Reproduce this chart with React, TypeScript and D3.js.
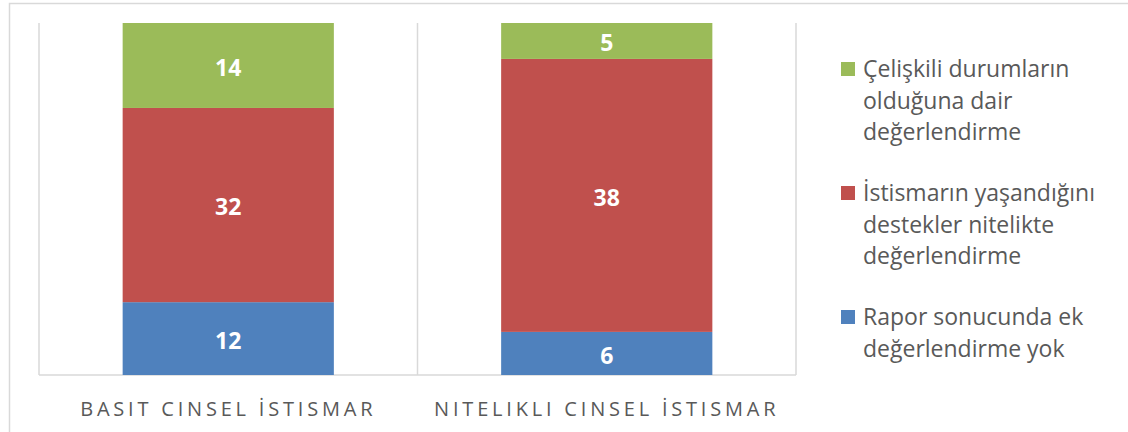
import React, { useEffect, useRef } from 'react';
import * as d3 from 'd3';

const categories = ['BASIT CINSEL İSTISMAR', 'NITELIKLI CINSEL İSTISMAR'];
const seriesNames = ['Rapor sonucunda ek değerlendirme yok', 'İstismarın yaşandığını destekler nitelikte değerlendirme', 'Çelişkili durumların olduğuna dair değerlendirme'];
const seriesKeys = ['yok', 'destekler', 'celiskili'];
const yokValues = [12, 6];
const desteklerValues = [32, 38];
const celiskiliValues = [14, 5];
const seriesColors = ['#4F81BD', '#C0504D', '#9BBB59'];
// legend is shown top-down: green, red, blue
const legendLines = [
  ['Çelişkili durumların', 'olduğuna dair', 'değerlendirme'],
  ['İstismarın yaşandığını', 'destekler nitelikte', 'değerlendirme'],
  ['Rapor sonucunda ek', 'değerlendirme yok'],
];
const legendSeries = [2, 1, 0];

const App = () => {
  const ref = useRef<SVGSVGElement>(null);

  useEffect(() => {
    const svg = d3.select(ref.current);
    svg.selectAll('*').remove();

    const W = 1128, H = 432;
    const plot = { left: 39, right: 796, top: 23, bottom: 375 };
    const font = "'Open Sans', sans-serif";
    const grid = '#d9d9d9';

    svg.append('rect')
      .attr('x', 9.5).attr('y', 3.5)
      .attr('width', W).attr('height', H)
      .attr('fill', 'white')
      .attr('stroke', grid)
      .attr('stroke-width', 1.5);

    const rows = categories.map((c, i) => ({
      cat: c,
      yok: yokValues[i],
      destekler: desteklerValues[i],
      celiskili: celiskiliValues[i],
    }));

    const stack = d3.stack<any>().keys(seriesKeys).offset(d3.stackOffsetExpand);
    const layers = stack(rows);

    const x = d3.scaleBand().domain(categories).range([plot.left, plot.right]).paddingInner(0.442).paddingOuter(0.221);
    const y = d3.scaleLinear().domain([0, 1]).range([plot.bottom, plot.top]);

    // category separators
    const edges = d3.range(categories.length + 1).map(i => plot.left + (plot.right - plot.left) * i / categories.length);
    edges.forEach(e => {
      svg.append('line')
        .attr('x1', e).attr('x2', e)
        .attr('y1', plot.top).attr('y2', plot.bottom)
        .attr('stroke', grid).attr('stroke-width', 1.5);
    });
    svg.append('line')
      .attr('x1', plot.left).attr('x2', plot.right)
      .attr('y1', plot.bottom).attr('y2', plot.bottom)
      .attr('stroke', grid).attr('stroke-width', 1.5);

    layers.forEach((layer, si) => {
      const g = svg.append('g');
      g.selectAll('rect')
        .data(layer)
        .join('rect')
        .attr('x', (d: any) => x(d.data.cat)!)
        .attr('width', x.bandwidth())
        .attr('y', (d: any) => y(d[1]))
        .attr('height', (d: any) => y(d[0]) - y(d[1]))
        .attr('fill', seriesColors[si]);

      g.selectAll('text')
        .data(layer)
        .join('text')
        .attr('x', (d: any) => x(d.data.cat)! + x.bandwidth() / 2)
        .attr('y', (d: any) => (y(d[0]) + y(d[1])) / 2 + 2)
        .attr('dy', '0.36em')
        .attr('text-anchor', 'middle')
        .attr('font-family', font)
        .attr('font-weight', 'bold')
        .attr('font-size', 23)
        .attr('fill', 'white')
        .text((d: any) => d.data[seriesKeys[si]]);
    });

    // category labels
    categories.forEach(c => {
      svg.append('text')
        .attr('x', x(c)! + x.bandwidth() / 2)
        .attr('y', 416)
        .attr('text-anchor', 'middle')
        .attr('font-family', font)
        .attr('font-size', 20)
        .attr('letter-spacing', 3.8)
        .attr('fill', '#595959')
        .text(c);
    });

    // legend
    const legendTop = [69, 193, 317];
    legendSeries.forEach((si, li) => {
      const cy = legendTop[li];
      svg.append('rect')
        .attr('x', 841).attr('y', cy - 7)
        .attr('width', 14).attr('height', 14)
        .attr('fill', seriesColors[si]);
      const t = svg.append('text')
        .attr('font-family', font)
        .attr('font-size', 23)
        .attr('fill', '#595959');
      legendLines[li].forEach((line, k) => {
        t.append('tspan')
          .attr('x', 863)
          .attr('y', cy + 8 + k * 31.5)
          .text(line);
      });
    });
  }, []);

  return (
    <div style={{ position: 'absolute', left: 0, top: 0 }}>
      <svg ref={ref} width={1128} height={432} style={{ display: 'block' }} />
    </div>
  );
};

export default App;
